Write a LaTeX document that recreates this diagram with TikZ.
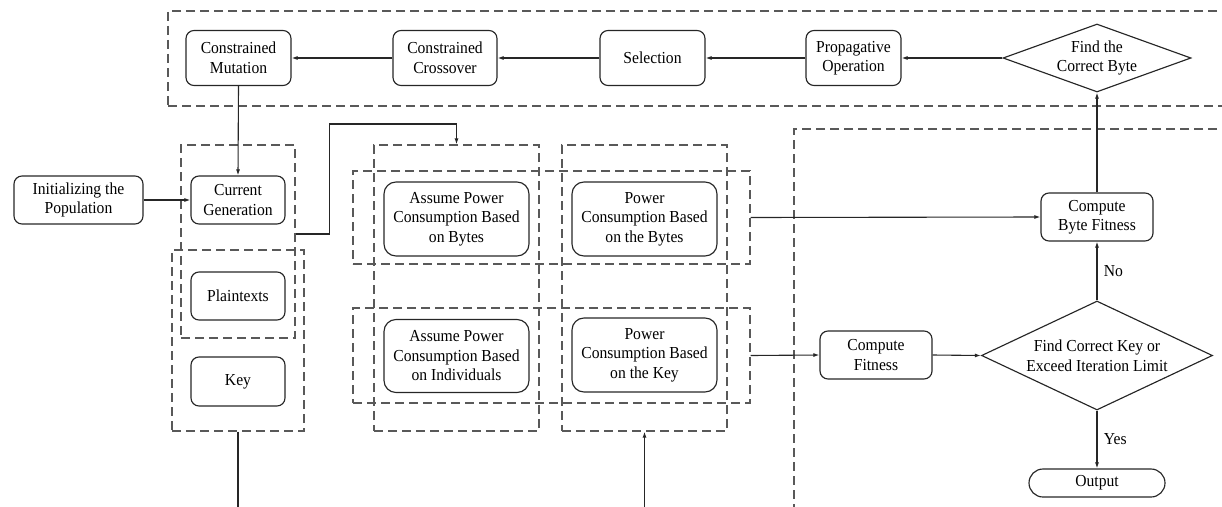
\documentclass[tikz,border=0pt]{standalone}
\usepackage{fontspec}
\setmainfont{Liberation Serif}[FakeStretch=0.93]
\usetikzlibrary{shapes.geometric,arrows.meta}
\begin{document}
\begin{tikzpicture}[x=1pt,y=-1pt,
  txt/.style={font=\fontsize{16.8}{19.5}\selectfont,text=black},
  box/.style={txt,draw=black!85,line width=1.15pt,rounded corners=8pt,align=center,inner sep=0pt},
  bigbox/.style={box,rounded corners=12pt},
  dbox/.style={draw=black!65,line width=1.2pt,dash pattern=on 9pt off 5pt,inner sep=0pt},
  arr/.style={draw=black!85,line width=1.1pt,-{Latex[length=6pt,width=4pt]}},
  dia/.style={txt,diamond,draw=black!85,line width=1.15pt,align=center,inner sep=0pt}
]
\useasboundingbox (0,0) rectangle (1222,506);
\clip (0,0) rectangle (1222,506);

% dashed groups
\node[dbox,minimum width=1072pt,minimum height=95pt] (top) at (704,58.5) {};
\node[dbox,minimum width=114pt,minimum height=193pt] (boxA) at (238,241.5) {};
\node[dbox,minimum width=132pt,minimum height=181pt] (boxB) at (238,340.5) {};
\node[dbox,minimum width=165pt,minimum height=286pt] (col1) at (456.5,288) {};
\node[dbox,minimum width=165pt,minimum height=286pt] (col2) at (644.5,288) {};
\node[dbox,minimum width=397pt,minimum height=93pt] (row1) at (551.5,217.5) {};
\node[dbox,minimum width=397pt,minimum height=95pt] (row2) at (551.5,355.5) {};
\node[dbox,minimum width=466pt,minimum height=401pt] (right) at (1027,329.5) {};

% top row
\node[box,minimum width=105pt,minimum height=55pt] (mut) at (238.5,58) {Constrained\\Mutation};
\node[box,minimum width=104pt,minimum height=55pt] (cross) at (445,58) {Constrained\\Crossover};
\node[box,minimum width=105pt,minimum height=55pt] (sel) at (652.5,58) {Selection};
\node[box,minimum width=95pt,minimum height=55pt] (prop) at (853.5,58) {Propagative\\Operation};
\node[dia,minimum width=188pt,minimum height=68pt,aspect=2.76] (d1) at (1097,58) {Find the\\Correct Byte};

% left column
\node[box,minimum width=129pt,minimum height=48pt] (init) at (78.5,200) {Initializing the\\Population};
\node[box,minimum width=94pt,minimum height=48pt] (cur) at (238,200) {Current\\Generation};
\node[box,minimum width=94pt,minimum height=48pt] (plain) at (238,296) {Plaintexts};
\node[box,minimum width=94pt,minimum height=49pt] (key) at (238,381.5) {Key};

% middle
\node[bigbox,minimum width=145pt,minimum height=74pt] (ab) at (456.5,219) {Assume Power\\Consumption Based\\on Bytes};
\node[bigbox,minimum width=145pt,minimum height=74pt] (pb) at (644.5,219) {Power\\Consumption Based\\on the Bytes};
\node[bigbox,minimum width=145pt,minimum height=73pt] (ai) at (456.5,356) {Assume Power\\Consumption Based\\on Individuals};
\node[bigbox,minimum width=145pt,minimum height=74pt] (pk) at (644.5,355) {Power\\Consumption Based\\on the Key};

% right
\node[box,minimum width=112pt,minimum height=48pt] (cf) at (876,355) {Compute\\Fitness};
\node[box,minimum width=112pt,minimum height=48pt] (cbf) at (1097,217) {Compute\\Byte Fitness};
\node[dia,minimum width=231pt,minimum height=109pt,aspect=2.12] (d2) at (1097,355.5) {Find Correct Key or\\Exceed Iteration Limit};
\node[box,rounded corners=14pt,minimum width=136pt,minimum height=28pt] (out) at (1097,483) {Output};

% connectors
\draw[arr] (d1.west) -- (prop.east);
\draw[arr] (prop.west) -- (sel.east);
\draw[arr] (sel.west) -- (cross.east);
\draw[arr] (cross.west) -- (mut.east);
\draw[arr] (mut.south) -- (cur.north);
\draw[arr] (init.east) -- (cur.west);
\draw[arr] ([yshift=7.5pt]boxA.east) -- ++(34,0) -- ++(0,-110) -| (col1.north);
\draw[arr] (row1.east) -- (cbf.west);
\draw[arr] (row2.east) -- (cf.west);
\draw[arr] (cf.east) -- (d2.west);
\draw[arr] (d2.north) -- node[txt,right,pos=0.5,xshift=3pt] (no) {No} (cbf.south);
\draw[arr] (cbf.north) -- (d1.south);
\draw[arr] (d2.south) -- node[txt,right,pos=0.5,xshift=3pt] (yes) {Yes} (out.north);
\draw[arr] (boxB.south) -- ++(0,110) -| (col2.south);
\end{tikzpicture}
\end{document}
